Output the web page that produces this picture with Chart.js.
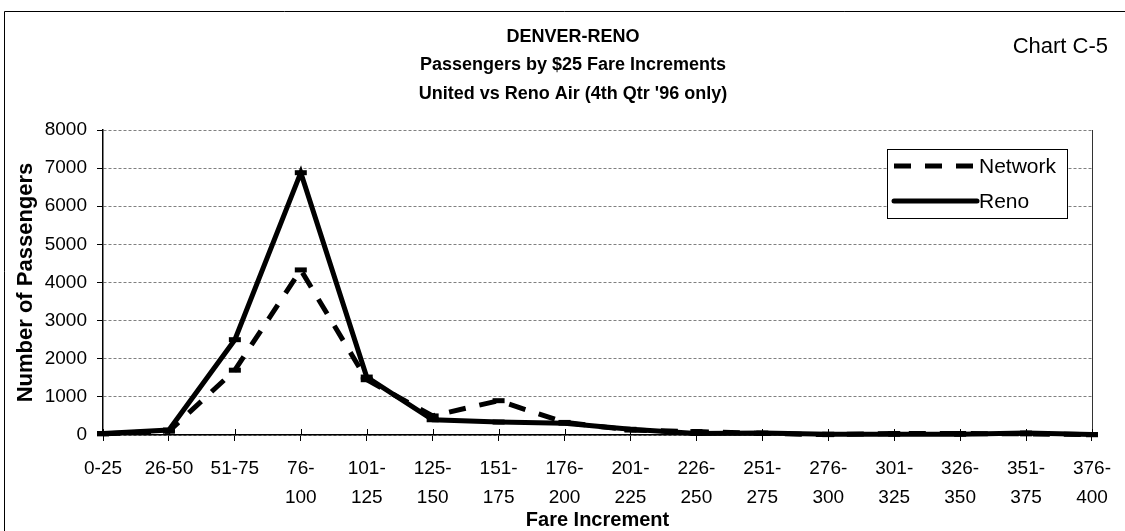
<!DOCTYPE html>
<html>
<head>
<meta charset="utf-8">
<title>Denver-Reno fares</title>
<script src="https://cdn.jsdelivr.net/npm/chart.js@4.4.1/dist/chart.umd.min.js"></script>
<style>
  html, body { margin: 0; padding: 0; background: #fff; }
  #wrap { width: 1125px; height: 531px; }
</style>
</head>
<body>
<div id="wrap"><canvas id="fareChart" width="1125" height="531"></canvas></div>
<script>
// fare buckets, two-line labels where the original wraps
const fareLabels = ['0-25', '26-50', '51-75', ['76-', '100'], ['101-', '125'], ['125-', '150'],
  ['151-', '175'], ['176-', '200'], ['201-', '225'], ['226-', '250'], ['251-', '275'],
  ['276-', '300'], ['301-', '325'], ['326-', '350'], ['351-', '375'], ['376-', '400']];
const networkPax = [30, 100, 1700, 4330, 1450, 500, 900, 330, 130, 90, 40, 10, 40, 40, 30, 10];
const renoPax = [40, 130, 2500, 6880, 1520, 400, 340, 310, 150, 40, 50, 20, 20, 20, 50, 10];
const yMax = 8000;
const yStep = 1000;
const titleLines = ['DENVER-RENO', 'Passengers by $25 Fare Increments', "United vs Reno Air (4th Qtr '96 only)"];
const cornerNote = 'Chart C-5';

const FONT = "'Liberation Sans', Arial, sans-serif";

const extras = {
    id: 'extras',
    beforeDraw(chart) {
        const ctx = chart.ctx;
        ctx.save();
        ctx.fillStyle = '#fff';
        ctx.fillRect(0, 0, chart.width, chart.height);
        // outer frame
        ctx.strokeStyle = '#000';
        ctx.lineWidth = 1;
        ctx.beginPath();
        ctx.moveTo(4.5, chart.height);
        ctx.lineTo(4.5, 11.5);
        ctx.lineTo(chart.width, 11.5);
        ctx.stroke();
        ctx.restore();
    },
    afterDraw(chart) {
        const ctx = chart.ctx;
        const area = chart.chartArea;
        const xs = chart.scales.x;
        ctx.save();

        // right edge of plot
        ctx.strokeStyle = '#333';
        ctx.lineWidth = 1;
        ctx.beginPath();
        ctx.moveTo(Math.round(area.right) + 0.5, area.top);
        ctx.lineTo(Math.round(area.right) + 0.5, area.bottom);
        ctx.stroke();

        // inner half of the category ticks
        ctx.strokeStyle = '#000';
        xs.ticks.forEach((t, i) => {
            const px = Math.round(xs.getPixelForTick(i)) + 0.5;
            ctx.beginPath();
            ctx.moveTo(px, area.bottom);
            ctx.lineTo(px, area.bottom - 6);
            ctx.stroke();
        });

        // titles
        ctx.fillStyle = '#000';
        ctx.textAlign = 'center';
        ctx.textBaseline = 'middle';
        ctx.font = 'bold 18px ' + FONT;
        titleLines.forEach((line, i) => ctx.fillText(line, 573, 37 + i * 28.5));

        ctx.font = '22px ' + FONT;
        ctx.textAlign = 'right';
        ctx.fillText(cornerNote, 1108, 47);

        // legend box
        const lx = 887, ly = 149, lw = 180, lh = 69;
        ctx.fillStyle = '#fff';
        ctx.fillRect(lx, ly, lw, lh);
        ctx.strokeStyle = '#000';
        ctx.lineWidth = 1;
        ctx.strokeRect(lx + 0.5, ly + 0.5, lw, lh);
        chart.data.datasets.forEach((ds, i) => {
            const y = ly + 17 + i * 35;
            ctx.strokeStyle = ds.borderColor;
            ctx.lineWidth = ds.borderWidth;
            ctx.setLineDash(ds.borderDash || []);
            ctx.lineCap = ds.borderDash ? 'butt' : 'round';
            ctx.beginPath();
            ctx.moveTo(lx + 7, y);
            ctx.lineTo(lx + 90, y);
            ctx.stroke();
            ctx.setLineDash([]);
            ctx.fillStyle = '#000';
            ctx.textAlign = 'left';
            ctx.font = '21px ' + FONT;
            ctx.fillText(ds.label, lx + 92, y + 1);
        });
        ctx.restore();
    }
};

const ctx = document.getElementById('fareChart').getContext('2d');
const chart = new Chart(ctx, {
    type: 'line',
    data: {
        labels: fareLabels,
        datasets: [
            {
                label: 'Network',
                data: networkPax,
                borderColor: '#000',
                borderWidth: 5,
                borderDash: [17, 14],
                pointStyle: 'line',
                pointRadius: 6,
                pointBorderWidth: 5,
                pointBorderColor: '#000',
                tension: 0,
                fill: false,
                clip: false
            },
            {
                label: 'Reno',
                data: renoPax,
                borderColor: '#000',
                borderWidth: 5,
                pointStyle: 'line',
                pointRadius: 6,
                pointBorderWidth: 5,
                pointBorderColor: '#000',
                tension: 0,
                fill: false,
                clip: false
            }
        ]
    },
    options: {
        responsive: false,
        animation: false,
        layout: { padding: { top: 130, right: 18, bottom: 0, left: 0 } },
        plugins: {
            legend: { display: false },
            title: { display: false },
            tooltip: { enabled: false }
        },
        scales: {
            x: {
                type: 'category',
                offset: false,
                afterFit: (scale) => { scale.height = 96; },
                grid: {
                    drawOnChartArea: false,
                    drawTicks: true,
                    tickLength: 6,
                    tickColor: '#000'
                },
                border: { color: '#000', width: 1.5 },
                ticks: {
                    color: '#000',
                    autoSkip: false,
                    maxRotation: 0,
                    padding: 14,
                    font: { family: FONT, size: 19, lineHeight: 1.5 }
                },
                title: {
                    display: true,
                    text: 'Fare Increment',
                    color: '#000',
                    padding: { top: 0, bottom: -1 },
                    font: { family: FONT, size: 20, weight: 'bold' }
                }
            },
            y: {
                min: 0,
                max: yMax,
                afterFit: (scale) => { scale.width = 103; },
                grid: {
                    color: '#808080',
                    lineWidth: 1,
                    drawTicks: true,
                    tickLength: 6,
                    tickColor: '#000',
                    tickBorderDash: []
                },
                border: { color: '#000', width: 1.5, dash: [3, 2] },
                ticks: {
                    stepSize: yStep,
                    color: '#000',
                    padding: 10,
                    callback: (v) => String(v),
                    font: { family: FONT, size: 19 }
                },
                title: {
                    display: true,
                    text: 'Number of Passengers',
                    color: '#000',
                    padding: { top: 13, bottom: 0 },
                    font: { family: FONT, size: 22, weight: 'bold' }
                }
            }
        }
    },
    plugins: [extras]
});
</script>
</body>
</html>
